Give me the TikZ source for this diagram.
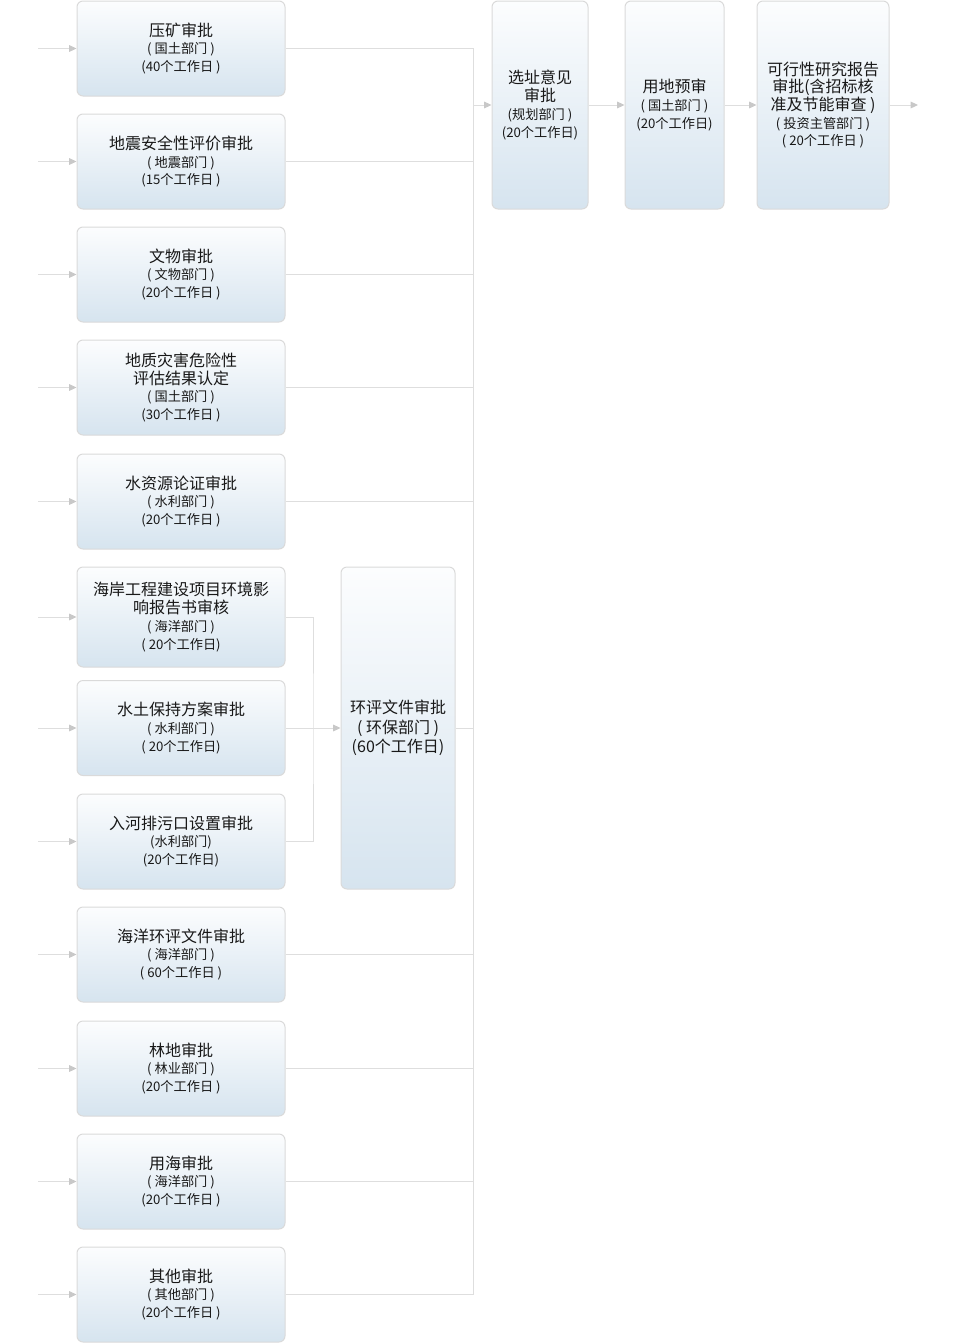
\documentclass[tikz,border=0pt]{standalone}
\usepackage{fontspec}
\setmainfont{Noto Sans CJK SC}
\usetikzlibrary{arrows.meta, calc}

\definecolor{boxTop}{RGB}{252,253,254}
\definecolor{boxBottom}{RGB}{214,228,239}
\definecolor{boxLine}{RGB}{218,218,218}
\definecolor{flowGray}{RGB}{222,222,222}
\definecolor{tipGray}{RGB}{200,200,200}
\definecolor{textDark}{RGB}{24,24,24}

\newcommand{\headFont}{\fontsize{12}{14.5}\selectfont}
\newcommand{\deptFont}{\fontsize{9.9}{13.3}\selectfont}

\tikzset{
  approval/.style={draw=boxLine, line width=0.75pt, rounded corners=4.5pt,
    top color=boxTop, bottom color=boxBottom, align=center, text=textDark,
    inner sep=0pt, font=\deptFont},
  leftbox/.style={approval, minimum width=156pt, minimum height=71.25pt},
  flowline/.style={draw=flowGray, line width=0.75pt},
  flowarrow/.style={flowline, -{Triangle[length=5.5pt, width=5pt, color=tipGray]}},
}

\begin{document}
\begin{tikzpicture}[x=0.75pt, y=-0.75pt]

 %%Paramaters
%% column positions (px), can be modified
\def\leftX{181}
\def\busX{473.5}
\def\inX{38}
\def\chainY{104.5}

\useasboundingbox (0,0) rectangle (955,1343);

 %% ***Left column : single approvals***
\node[leftbox] (yakuang) at (\leftX, 48.5) {{\headFont 压矿审批}\\( 国土部门 )\\(40个工作日 )};
\node[leftbox] (dizhen) at (\leftX, 161.5) {{\headFont 地震安全性评价审批}\\( 地震部门 )\\(15个工作日 )};
\node[leftbox] (wenwu) at (\leftX, 274.5) {{\headFont 文物审批}\\( 文物部门 )\\(20个工作日 )};
\node[leftbox] (dizhi) at (\leftX, 387.5) {{\headFont 地质灾害危险性}\\{\headFont 评估结果认定}\\( 国土部门 )\\(30个工作日 )};
\node[leftbox] (shuiziyuan) at (\leftX, 501.5) {{\headFont 水资源论证审批}\\( 水利部门 )\\(20个工作日 )};
\node[leftbox, minimum height=75pt] (haian) at (\leftX, 617) {{\headFont 海岸工程建设项目环境影}\\{\headFont 响报告书审核}\\( 海洋部门 )\\( 20个工作日)};
\node[leftbox] (shuitu) at (\leftX, 728) {{\headFont 水土保持方案审批}\\( 水利部门 )\\( 20个工作日)};
\node[leftbox] (rukou) at (\leftX, 841.5) {{\headFont 入河排污口设置审批}\\(水利部门)\\(20个工作日)};
\node[leftbox] (haiyang) at (\leftX, 954.5) {{\headFont 海洋环评文件审批}\\( 海洋部门 )\\( 60个工作日 )};
\node[leftbox] (lindi) at (\leftX, 1068.5) {{\headFont 林地审批}\\( 林业部门 )\\(20个工作日 )};
\node[leftbox] (yonghai) at (\leftX, 1181.5) {{\headFont 用海审批}\\( 海洋部门 )\\(20个工作日 )};
\node[leftbox] (qita) at (\leftX, 1294.5) {{\headFont 其他审批}\\( 其他部门 )\\(20个工作日 )};

 %% ***Environmental assessment box***
\node[approval, minimum width=85.5pt, minimum height=241.5pt, font=\fontsize{12}{14.6}\selectfont] (huanping) at (398, 728) {环评文件审批\\( 环保部门 )\\(60个工作日)};

 %% ***Top chain***
\node[approval, minimum width=72pt, minimum height=156pt] (xuanzhi) at (540, 105) {{\headFont 选址意见}\\{\headFont 审批}\\(规划部门 )\\(20个工作日)};
\node[approval, minimum width=74.25pt, minimum height=156pt] (yongdi) at (674.5, 105) {{\headFont 用地预审}\\( 国土部门 )\\(20个工作日)};
\node[approval, minimum width=99pt, minimum height=156pt] (kexing) at (823, 105) {{\headFont 可行性研究报告}\\{\headFont 审批(含招标核}\\{\headFont 准及节能审查 )}\\( 投资主管部门 )\\( 20个工作日 )};

%% free ends
\coordinate (busTop) at (\busX, 48.5);
\coordinate (subBus) at (313, 728);
\coordinate (chainEnd) at (918, \chainY);
\coordinate (yakuangIn) at (\inX, 48.5);
\coordinate (dizhenIn) at (\inX, 161.5);
\coordinate (wenwuIn) at (\inX, 274.5);
\coordinate (dizhiIn) at (\inX, 387.5);
\coordinate (shuiziyuanIn) at (\inX, 501.5);
\coordinate (haianIn) at (\inX, 617);
\coordinate (shuituIn) at (\inX, 728);
\coordinate (rukouIn) at (\inX, 841.5);
\coordinate (haiyangIn) at (\inX, 954.5);
\coordinate (lindiIn) at (\inX, 1068.5);
\coordinate (yonghaiIn) at (\inX, 1181.5);
\coordinate (qitaIn) at (\inX, 1294.5);

% incoming
\draw[flowarrow] (yakuangIn) -- (yakuang.west);
\draw[flowarrow] (dizhenIn) -- (dizhen.west);
\draw[flowarrow] (wenwuIn) -- (wenwu.west);
\draw[flowarrow] (dizhiIn) -- (dizhi.west);
\draw[flowarrow] (shuiziyuanIn) -- (shuiziyuan.west);
\draw[flowarrow] (haianIn) -- (haian.west);
\draw[flowarrow] (shuituIn) -- (shuitu.west);
\draw[flowarrow] (rukouIn) -- (rukou.west);
\draw[flowarrow] (haiyangIn) -- (haiyang.west);
\draw[flowarrow] (lindiIn) -- (lindi.west);
\draw[flowarrow] (yonghaiIn) -- (yonghai.west);
\draw[flowarrow] (qitaIn) -- (qita.west);

% to the bus
\draw[flowline] (busTop) -- (busTop |- qita.east);
\draw[flowline] (yakuang.east) -- (busTop);
\draw[flowline] (dizhen.east) -- (dizhen.east -| busTop);
\draw[flowline] (wenwu.east) -- (wenwu.east -| busTop);
\draw[flowline] (dizhi.east) -- (dizhi.east -| busTop);
\draw[flowline] (shuiziyuan.east) -- (shuiziyuan.east -| busTop);
\draw[flowline] (haiyang.east) -- (haiyang.east -| busTop);
\draw[flowline] (lindi.east) -- (lindi.east -| busTop);
\draw[flowline] (yonghai.east) -- (yonghai.east -| busTop);
\draw[flowline] (qita.east) -- (qita.east -| busTop);

% sea / soil / outlet group
\draw[flowline] (haian.east) -| (subBus) |- (rukou.east);
\draw[flowarrow] (shuitu.east) -- (huanping.west);
\draw[flowline] (huanping.east) -- (huanping.east -| busTop);

% chain
\draw[flowarrow] (busTop |- xuanzhi.west) -- (xuanzhi.west);
\draw[flowarrow] (xuanzhi.east) -- (yongdi.west);
\draw[flowarrow] (yongdi.east) -- (kexing.west);
\draw[flowarrow] (kexing.east) -- (chainEnd |- kexing.east);
 \end{tikzpicture}
\end{document}
